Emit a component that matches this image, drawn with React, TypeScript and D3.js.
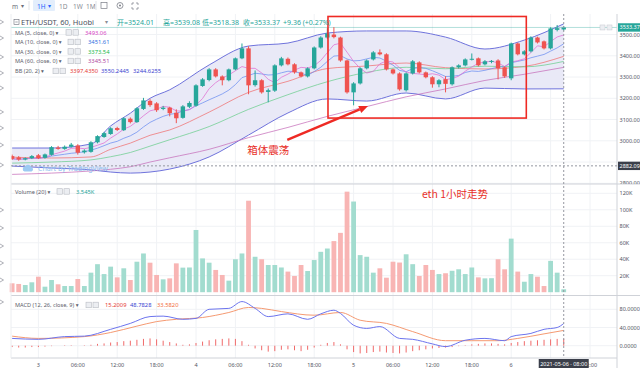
import React from "react";
import * as d3 from "d3";

// ETH/USDT 1h candles (Huobi), first candle 2021-05-02 20:00
const firstCandle = Date.UTC(2021, 4, 2, 20);

const opens = [2928, 2922, 2912, 2918, 2932, 2920, 2934, 2968, 2962, 2972, 2978, 2946, 2948, 2993, 3018, 3032, 3060, 3050, 3104, 3088, 3150, 3188, 3176, 3150, 3156, 3132, 3108, 3160, 3165, 3258, 3286, 3336, 3303, 3285, 3336, 3388, 3435, 3262, 3285, 3230, 3236, 3355, 3386, 3360, 3322, 3303, 3341, 3439, 3486, 3500, 3486, 3378, 3228, 3270, 3341, 3383, 3416, 3407, 3336, 3317, 3238, 3317, 3369, 3322, 3299, 3266, 3290, 3266, 3346, 3355, 3383, 3388, 3360, 3374, 3378, 3346, 3294, 3458, 3407, 3421, 3486, 3468, 3435, 3522, 3524.01];
const highs = [2935, 2928, 2922, 2933, 2938, 2940, 2975, 2976, 2978, 2990, 2984, 2960, 2998, 3026, 3042, 3064, 3066, 3110, 3110, 3158, 3202, 3196, 3182, 3164, 3160, 3148, 3168, 3186, 3266, 3295, 3342, 3342, 3308, 3340, 3392, 3458, 3445, 3331, 3290, 3246, 3360, 3395, 3392, 3365, 3326, 3346, 3444, 3492, 3530, 3535, 3490, 3382, 3276, 3346, 3383, 3422, 3430, 3412, 3340, 3322, 3322, 3380, 3374, 3326, 3304, 3290, 3304, 3350, 3360, 3388, 3411, 3392, 3380, 3380, 3384, 3350, 3462, 3462, 3426, 3492, 3490, 3472, 3534, 3545, 3539.08];
const lows = [2910, 2906, 2908, 2914, 2914, 2916, 2930, 2958, 2958, 2968, 2935, 2940, 2944, 2988, 3014, 3028, 3046, 3046, 3082, 3084, 3145, 3160, 3136, 3144, 3115, 3083, 3104, 3154, 3160, 3254, 3280, 3298, 3261, 3280, 3332, 3384, 3219, 3255, 3222, 3181, 3230, 3350, 3355, 3316, 3298, 3298, 3336, 3434, 3480, 3482, 3372, 3222, 3167, 3265, 3336, 3378, 3402, 3331, 3312, 3236, 3232, 3312, 3317, 3294, 3250, 3252, 3228, 3260, 3340, 3350, 3378, 3350, 3355, 3365, 3289, 3296, 3285, 3402, 3402, 3416, 3458, 3430, 3430, 3515, 3518.38];
const closes = [2915, 2912, 2918, 2928, 2918, 2936, 2970, 2962, 2972, 2982, 2944, 2954, 2993, 3022, 3036, 3059, 3051, 3106, 3088, 3153, 3190, 3168, 3144, 3156, 3130, 3106, 3162, 3178, 3261, 3289, 3336, 3303, 3285, 3336, 3388, 3435, 3261, 3285, 3228, 3238, 3355, 3388, 3360, 3322, 3303, 3341, 3439, 3486, 3505, 3488, 3378, 3228, 3270, 3341, 3378, 3416, 3407, 3336, 3317, 3242, 3317, 3374, 3322, 3299, 3266, 3285, 3268, 3346, 3355, 3383, 3386, 3355, 3374, 3376, 3341, 3303, 3458, 3407, 3421, 3486, 3463, 3435, 3529, 3530, 3533.37];
// volume in thousands
const volumes = [10.8, 10, 8.7, 12, 18.8, 6.7, 14.8, 9.6, 7.5, 7.5, 16, 7.5, 23.7, 34, 22, 31, 18, 29, 14.8, 37, 47, 35.8, 20.9, 15.6, 16.8, 35, 29.8, 30, 75.5, 41, 35.8, 27, 20.9, 14, 40, 47, 111, 43, 40, 33, 33, 30, 25, 19.7, 33, 25.7, 39, 49, 53, 62, 72, 122, 110, 45, 43, 23.7, 29, 17.6, 37, 36, 46, 34, 19.7, 33, 27, 22, 23, 26, 27.8, 22, 30, 18, 16.8, 17, 40, 27.8, 65, 25, 12.7, 22, 18.8, 7.5, 38, 23.7, 3.545];

// Bollinger (20, 2) and long MAs at these candle offsets
const bandAt = [0, 6, 12, 15, 18, 21, 24, 30, 36, 42, 48, 54, 60, 66, 72, 78, 84];
const bbUpper = [2966, 2966, 2985, 3070, 3130, 3200, 3240, 3357, 3446, 3460, 3507, 3517, 3517, 3488, 3432, 3474, 3550.24];
const bbBasis = [2923, 2919, 2924, 2960, 2989, 3026, 3051, 3135, 3228, 3280, 3340, 3352, 3366, 3344, 3338, 3350, 3397.44];
const bbLower = [2881, 2872, 2863, 2853, 2848, 2853, 2867, 2924, 3027, 3131, 3197, 3187, 3225, 3197, 3248, 3244, 3244.63];
const ma30 = [2895, 2900, 2910, 2925, 2945, 2975, 3005, 3067, 3148, 3217, 3278, 3322, 3346, 3339, 3351, 3348, 3373.54];
const ma60 = [2842, 2848, 2858, 2866, 2878, 2900, 2920, 2960, 3015, 3063, 3115, 3161, 3207, 3244, 3284, 3313, 3345.51];

// MACD (12, 26, close, 9)
const macdAt = [0, 4, 8, 11, 15, 18, 21, 23, 26, 28, 30, 33, 35, 37, 39, 42, 45, 47, 49, 50, 52, 54, 56, 59, 61, 64, 66, 69, 72, 75, 76, 79, 81, 83, 84];
const macdLine = [16, 14, 20, 21, 36, 49, 64, 65, 58, 60, 80, 82, 97, 82, 64, 70, 58, 70, 78, 71, 45, 38, 42, 16, 14, 4, -2, 12, 16, 11, 20, 27, 36, 40, 48.78];
const signalAt = [0, 4, 11, 15, 19, 22, 25, 29, 33, 36, 38, 41, 46, 50, 53, 57, 61, 66, 70, 74, 77, 81, 84];
const signalLine = [21, 16, 20, 29, 43, 53, 58, 62, 73, 84, 82, 75, 67, 73, 56, 49, 31, 11, 11, 11, 16, 26, 33.58];
const macdHist = [-3, -4, -4, -3, -3, -2, -1, 0, 1, 1, 0, 1, 2, 4, 5, 7, 8, 10, 11, 13, 15, 16, 14, 11, 8, 5, 2, 3, 6, 9, 12, 14, 15, 16, 15, 10, 2, -6, -10, -13, -12, -9, -8, -10, -12, -9, -4, 2, 6, 8, 3, -8, -14, -17, -16, -14, -13, -15, -16, -17, -15, -12, -10, -8, -6, -5, -4, -3, -1, 1, 3, 4, 5, 5, 4, 3, 6, 8, 10, 11, 12, 13, 14, 15, 15.2];

const priceTicks = [2800, 2900, 3000, 3100, 3200, 3300, 3400, 3500];
const volumeTicks = [20, 40, 60, 80, 100, 120];
const macdTicks = [0, 40, 80];
const crossPrice = 2882.09;

const sans = "'Noto Sans', 'Noto Sans CJK SC', 'DejaVu Sans', sans-serif";
const cjk = "'Noto Sans CJK SC', sans-serif";
const GREEN = "#26a69a";
const RED = "#ef5350";

function Icons({ x, y }: { x: number; y: number }) {
  return (
    <g>
      <rect x={x} y={y - 2.8} width={5.5} height={5.5} fill="#eceef2" stroke="#b9bcc4" strokeWidth={0.6} />
      <rect x={x + 7} y={y - 2.8} width={5.5} height={5.5} fill="#eceef2" stroke="#b9bcc4" strokeWidth={0.6} />
    </g>
  );
}

export default function App() {
  const left = 11;
  const axisX = 617;
  const x = d3.scaleUtc()
    .domain([new Date(Date.UTC(2021, 4, 3)), new Date(Date.UTC(2021, 4, 6))])
    .range([38.4, 511.2]);
  const at = (h: number) => x(new Date(firstCandle + h * 36e5));
  const yP = d3.scaleLinear().domain([3200, 3500]).range([98.3, 34.55]);
  const yV = d3.scaleLinear().domain([0, 120]).range([292.2, 193.3]);
  const yM = d3.scaleLinear().domain([0, 80]).range([345.7, 309.3]);

  const crossX = at(84);
  const timeTicks = d3.utcHour.every(6)!.range(x.invert(left), x.invert(axisX));
  // labels hidden behind the crosshair time label are not drawn
  const timeLabels = timeTicks.filter((d) => Math.abs(x(d) - crossX) > 20);
  const fmtTime = (d: Date) => (d.getUTCHours() === 0 ? String(d.getUTCDate()) : d3.utcFormat("%H:%M")(d));

  const rolling = (n: number) =>
    closes.map((_, i) => d3.mean(closes.slice(Math.max(0, i - n + 1), i + 1)) as number);
  const ma5 = rolling(5);
  const ma10 = rolling(10);

  const curve = d3.curveMonotoneX;
  const bandLine = (vals: number[]) =>
    d3.line<number>().x((_, k) => at(bandAt[k])).y((v) => yP(v)).curve(curve)(vals) || "";
  const maLine = (vals: number[]) =>
    d3.line<number>().x((_, i) => at(i)).y((v) => yP(v))(vals) || "";
  const bandArea =
    d3.area<number>().x((_, k) => at(bandAt[k])).y0((_, k) => yP(bbLower[k])).y1((v) => yP(v)).curve(curve)(bbUpper) || "";
  const macdPath = d3.line<number>().x((_, k) => at(macdAt[k])).y((v) => yM(v)).curve(curve)(macdLine) || "";
  const signalPath = d3.line<number>().x((_, k) => at(signalAt[k])).y((v) => yM(v)).curve(curve)(signalLine) || "";

  // annotations (hours from first candle, price)
  const box = { h0: 48.1, h1: 78.3, top: 3585, bottom: 3107 };
  const arrow = { h0: 41.9, p0: 3004, h1: 54.2, p1: 3164 };
  const ax0 = at(arrow.h0), ay0 = yP(arrow.p0), ax1 = at(arrow.h1), ay1 = yP(arrow.p1);
  const ang = Math.atan2(ay1 - ay0, ax1 - ax0);
  const hl = 9, hw = 3.8;
  const bx = ax1 - hl * Math.cos(ang), by = ay1 - hl * Math.sin(ang);
  const head = `M${ax1},${ay1}L${bx + hw * Math.sin(ang)},${by - hw * Math.cos(ang)}L${bx - hw * Math.sin(ang)},${by + hw * Math.cos(ang)}Z`;

  const lastY = yP(closes[closes.length - 1]);
  const cw = 4.4;
  // price labels under the crosshair price label are hidden
  const priceLabels = priceTicks.filter((p) => Math.abs(yP(p) - yP(crossPrice)) > 7);

  const maRows = [
    { y: 32.5, label: "MA (5, close, 0)", ix: 66, vals: [{ t: "3493.06", x: 85, c: "#d63fc4" }] },
    { y: 42, label: "MA (10, close, 0)", ix: 68, vals: [{ t: "3451.61", x: 88, c: "#2f6fe0" }] },
    { y: 51.5, label: "MA (30, close, 0)", ix: 68, vals: [{ t: "3373.54", x: 88, c: "#22b84a" }] },
    { y: 61, label: "MA (60, close, 0)", ix: 68, vals: [{ t: "3345.51", x: 88, c: "#b0479e" }] },
    {
      y: 71, label: "BB (20, 2)", ix: 53, vals: [
        { t: "3397.4350", x: 70, c: "#e53935" },
        { t: "3550.2445", x: 101, c: "#3a3fd0" },
        { t: "3244.6255", x: 133, c: "#3a3fd0" },
      ],
    },
  ];
  const toolMarks = [22, 38, 57, 73, 88, 112, 128, 145, 165, 210, 228, 246, 263, 280, 302];

  return (
    <div style={{ position: "absolute", left: 0, top: 0, width: 640, height: 368, background: "#fff" }}>
      <svg width={640} height={368} style={{ display: "block" }} fontFamily={sans}>
        <defs>
          <clipPath id="pricePane">
            <rect x={left} y={14} width={axisX - left} height={170} />
          </clipPath>
          <clipPath id="priceAxis">
            <rect x={axisX} y={14} width={640 - axisX} height={170} />
          </clipPath>
        </defs>
        <rect width={640} height={368} fill="#fff" />

        {/* grid */}
        {timeTicks.map((d, i) => (
          <line key={"vg" + i} x1={x(d)} x2={x(d)} y1={14} y2={358} stroke="#f0f2f5" strokeWidth={1} />
        ))}
        {priceTicks.map((p) => (
          <line key={"pg" + p} x1={left} x2={axisX} y1={yP(p)} y2={yP(p)} stroke="#f0f2f5" />
        ))}
        {volumeTicks.map((v) => (
          <line key={"vgr" + v} x1={left} x2={axisX} y1={yV(v)} y2={yV(v)} stroke="#f0f2f5" />
        ))}
        {macdTicks.map((v) => (
          <line key={"mg" + v} x1={left} x2={axisX} y1={yM(v)} y2={yM(v)} stroke="#f0f2f5" />
        ))}

        {/* price pane */}
        <g clipPath="url(#pricePane)">
          <path d={bandArea} fill="#e9e9f7" />
          <path d={bandLine(bbUpper)} fill="none" stroke="#6f73dc" strokeWidth={1} />
          <path d={bandLine(bbLower)} fill="none" stroke="#6f73dc" strokeWidth={1} />
          <path d={bandLine(bbBasis)} fill="none" stroke="#ef6b6b" strokeWidth={0.9} opacity={0.8} />
          <path d={bandLine(ma60)} fill="none" stroke="#c46ab8" strokeWidth={0.9} opacity={0.8} />
          <path d={bandLine(ma30)} fill="none" stroke="#6fcf90" strokeWidth={0.9} opacity={0.85} />
          <path d={maLine(ma10)} fill="none" stroke="#6d8ff0" strokeWidth={0.9} opacity={0.85} />
          <path d={maLine(ma5)} fill="none" stroke="#e070d2" strokeWidth={0.9} opacity={0.85} />
          <line x1={left} x2={axisX} y1={lastY} y2={lastY} stroke={GREEN} strokeOpacity={0.35} strokeWidth={1} />
          {closes.map((c, i) => {
            const o = opens[i];
            const col = c >= o ? GREEN : RED;
            const cx = at(i);
            const top = yP(Math.max(o, c));
            const h = Math.max(1, yP(Math.min(o, c)) - top);
            return (
              <g key={"c" + i}>
                <line x1={cx} x2={cx} y1={yP(highs[i])} y2={yP(lows[i])} stroke={col} strokeWidth={1} />
                <rect x={cx - cw / 2} y={top} width={cw} height={h} fill={col} />
              </g>
            );
          })}
        </g>

        {/* volume */}
        {volumes.map((v, i) => (
          <rect key={"v" + i} x={at(i) - 2.4} width={4.8} y={yV(v)} height={yV(0) - yV(v)}
            fill={closes[i] >= opens[i] ? "#a2dccf" : "#f8b5b4"} />
        ))}

        {/* macd */}
        {macdHist.map((v, i) => (
          <line key={"h" + i} x1={at(i)} x2={at(i)} y1={yM(0)} y2={yM(v)} stroke="#f06a6a" strokeWidth={1} />
        ))}
        <path d={signalPath} fill="none" stroke="#f59a72" strokeWidth={1} />
        <path d={macdPath} fill="none" stroke="#6c74ee" strokeWidth={1} />

        {/* separators and axes */}
        <line x1={left} x2={640} y1={184} y2={184} stroke="#cfd2d8" />
        <line x1={left} x2={640} y1={295.5} y2={295.5} stroke="#cfd2d8" />
        <line x1={left} x2={axisX} y1={358} y2={358} stroke="#cfd2d8" />
        <line x1={axisX} x2={axisX} y1={14} y2={368} stroke="#cfd2d8" />
        <line x1={left} x2={left} y1={14} y2={358} stroke="#eceef1" />

        {/* crosshair */}
        <line x1={crossX} x2={crossX} y1={14} y2={358} stroke="#9598a1" strokeDasharray="2,2" />
        <line x1={left} x2={axisX} y1={yP(crossPrice)} y2={yP(crossPrice)} stroke="#9598a1" strokeDasharray="2,2" />

        {/* annotations */}
        <rect x={at(box.h0)} y={yP(box.top)} width={at(box.h1) - at(box.h0)} height={yP(box.bottom) - yP(box.top)}
          fill="none" stroke="#ee2a24" strokeWidth={1.6} />
        <line x1={ax0} y1={ay0} x2={bx} y2={by} stroke="#ee2a24" strokeWidth={2.4} />
        <path d={head} fill="#ee2a24" />
        <text x={at(35.8)} y={yP(2961)} fontFamily={cjk} fontSize={10.5} fill="#e8312b" dominantBaseline="central">箱体震荡</text>
        <text x={at(62.4)} y={yV(120)} fontFamily={cjk} fontSize={10.5} fill="#e8312b" dominantBaseline="central">eth 1小时走势</text>

        {/* watermark */}
        <path d="M24.5,171.5 a2.6,2.6 0 0 1 0.3,-5 a3.6,3.6 0 0 1 6.6,0.8 a2.2,2.2 0 0 1 0.2,4.2 z" fill="#9ccaf3" />
        <text x={38} y={168.5} fontSize={7} fill="#8cc0ef" dominantBaseline="central">Chart by TradingView</text>

        {/* right axis labels */}
        <g clipPath="url(#priceAxis)">
          {priceLabels.map((p) => (
            <text key={"pl" + p} x={619.5} y={yP(p)} fontSize={5.5} fill="#50535e" dominantBaseline="central">{p.toFixed(2)}</text>
          ))}
        </g>
        {volumeTicks.map((v) => (
          <text key={"vl" + v} x={619.5} y={yV(v)} fontSize={5.5} fill="#50535e" dominantBaseline="central">{v + "K"}</text>
        ))}
        {macdTicks.map((v) => (
          <text key={"ml" + v} x={619.5} y={yM(v)} fontSize={5.5} fill="#50535e" dominantBaseline="central">{v.toFixed(4)}</text>
        ))}
        <rect x={618} y={lastY - 4.2} width={22} height={8.4} fill={GREEN} />
        <text x={619.5} y={lastY} fontSize={5.5} fill="#fff" dominantBaseline="central">{closes[closes.length - 1].toFixed(2)}</text>
        <rect x={600} y={lastY - 2.5} width={5} height={5} fill="#eceef2" stroke="#c4c7ce" strokeWidth={0.5} />
        <rect x={607} y={lastY - 2.5} width={5} height={5} fill="#eceef2" stroke="#c4c7ce" strokeWidth={0.5} />
        <rect x={618} y={yP(crossPrice) - 4.2} width={22} height={8.4} fill="#3b3f4a" />
        <text x={619.5} y={yP(crossPrice)} fontSize={5.5} fill="#fff" dominantBaseline="central">{crossPrice.toFixed(2)}</text>

        {/* time axis */}
        {timeLabels.map((d, i) => (
          <text key={"tl" + i} x={x(d)} y={364.5} fontSize={5.5} fill="#50535e" textAnchor="middle" dominantBaseline="central">{fmtTime(d)}</text>
        ))}
        <rect x={crossX - 25} y={359} width={50} height={9} fill="#3b3f4a" />
        <text x={crossX} y={363.8} fontSize={5.5} fill="#fff" textAnchor="middle" dominantBaseline="central">2021-05-06 · 08:00</text>

        {/* legends */}
        <rect x={14} y={19.5} width={5} height={5} fill="none" stroke="#6a6d78" strokeWidth={0.6} />
        <line x1={15.3} x2={17.7} y1={22} y2={22} stroke="#6a6d78" strokeWidth={0.6} />
        <text x={21} y={22} fontSize={7.5} fill="#4c525e" dominantBaseline="central">ETH/USDT, 60, Huobi</text>
        <text x={105} y={22} fontSize={6} fill="#8a8d96" dominantBaseline="central">▾</text>
        {[
          { t: "开=3524.01", x: 117 },
          { t: "高=3539.08", x: 163 },
          { t: "低=3518.38", x: 202 },
          { t: "收=3533.37", x: 243 },
          { t: "+9.36 (+0.27%)", x: 283 },
        ].map((o) => (
          <text key={o.t} x={o.x} y={22} fontSize={7} fill="#26a69a" dominantBaseline="central">{o.t}</text>
        ))}
        {maRows.map((r) => (
          <g key={r.label}>
            <text x={15} y={r.y} fontSize={5.6} fill="#5d606b" dominantBaseline="central">{r.label + " ▾"}</text>
            <Icons x={r.ix} y={r.y} />
            {r.vals.map((v) => (
              <text key={v.t} x={v.x} y={r.y} fontSize={5.8} fill={v.c} dominantBaseline="central">{v.t}</text>
            ))}
          </g>
        ))}
        <text x={15} y={191.5} fontSize={5.6} fill="#5d606b" dominantBaseline="central">Volume (20) ▾</text>
        <Icons x={57} y={191.5} />
        <text x={76} y={191.5} fontSize={5.8} fill="#26a69a" dominantBaseline="central">3.545K</text>
        <text x={15} y={305} fontSize={5.6} fill="#5d606b" dominantBaseline="central">MACD (12, 26, close, 9) ▾</text>
        <Icons x={86} y={305} />
        <text x={105} y={305} fontSize={5.8} fill="#e53935" dominantBaseline="central">15.2009</text>
        <text x={130} y={305} fontSize={5.8} fill="#3a3fd0" dominantBaseline="central">48.7828</text>
        <text x={157} y={305} fontSize={5.8} fill="#f26b3a" dominantBaseline="central">33.5820</text>

        {/* top toolbar */}
        <text x={12} y={6} fontSize={6.5} fill="#6a6d78" dominantBaseline="central">m</text>
        <text x={21} y={6} fontSize={6} fill="#6a6d78" dominantBaseline="central">▾</text>
        <rect x={33} y={0} width={22} height={11} fill="#e3eefc" rx={1} />
        <text x={37} y={6} fontSize={6.5} fill="#2962ff" dominantBaseline="central">1H</text>
        <text x={48} y={6} fontSize={6} fill="#2962ff" dominantBaseline="central">▾</text>
        <text x={59} y={6} fontSize={6.5} fill="#8a8d96" dominantBaseline="central">1D</text>
        <text x={73} y={6} fontSize={6.5} fill="#8a8d96" dominantBaseline="central">1W</text>
        <text x={86} y={6} fontSize={6.5} fill="#8a8d96" dominantBaseline="central">1M</text>
        <rect x={101} y={2.5} width={6} height={6} fill="none" stroke="#7a7d86" strokeWidth={0.7} />
        <circle cx={120} cy={5.5} r={3} fill="none" stroke="#7a7d86" strokeWidth={0.8} />
        <circle cx={120} cy={5.5} r={1} fill="#7a7d86" />
        <path d="M132,3 h2 M132,3 v2 M138,3 h-2 M138,3 v2 M132,9 h2 M132,9 v-2 M138,9 h-2 M138,9 v-2" stroke="#7a7d86" strokeWidth={0.7} />
        <line x1={29} x2={29} y1={1} y2={10} stroke="#e0e3e8" />
        <line x1={96} x2={96} y1={1} y2={10} stroke="#e0e3e8" />

        {/* left toolbar (cut off) */}
        {toolMarks.map((yy) => (
          <path key={"tm" + yy} d={`M0,${yy - 2} L3.5,${yy} L0,${yy + 2}`} fill="none" stroke="#9a9da6" strokeWidth={0.8} />
        ))}
      </svg>
    </div>
  );
}
